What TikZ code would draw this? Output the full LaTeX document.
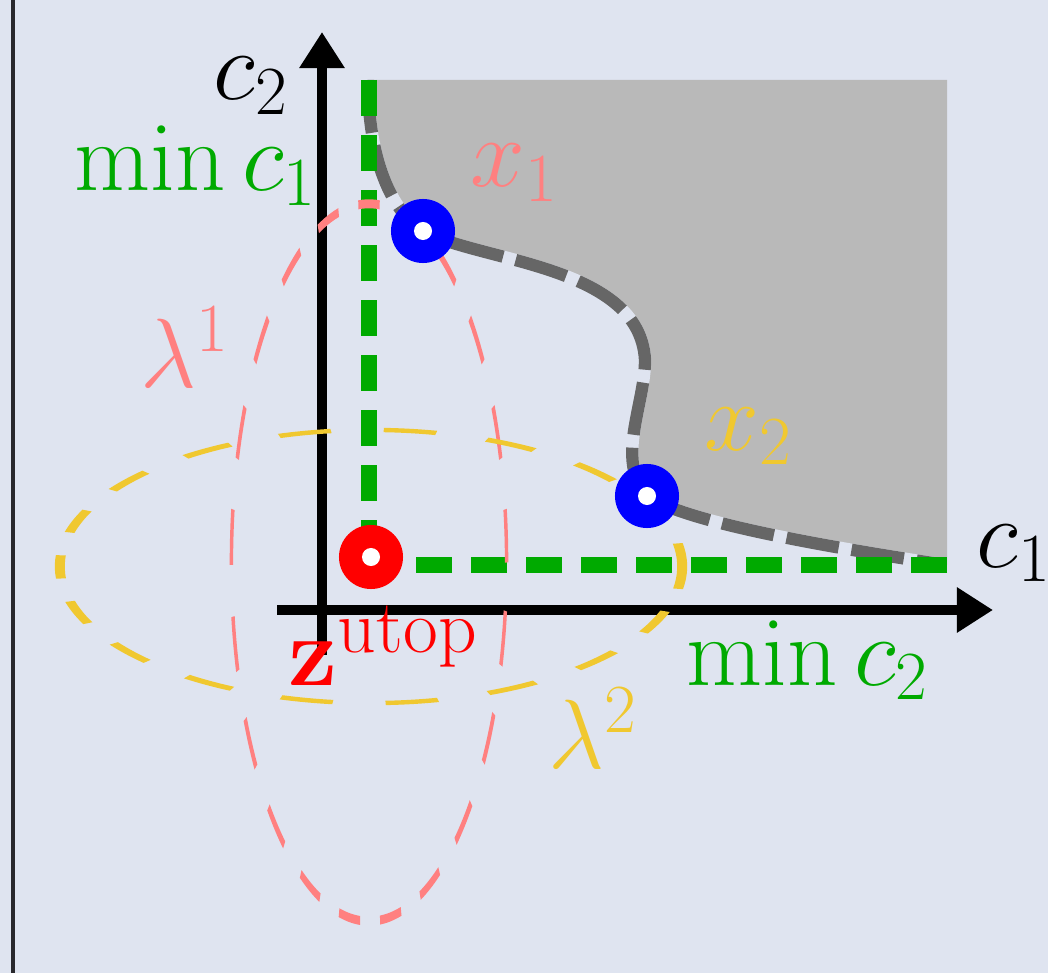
\documentclass[tikz,border=0pt]{standalone}
\usepackage{fix-cm}
\usetikzlibrary{arrows.meta}
\definecolor{panelbg}{RGB}{223, 228, 240}
\definecolor{framedark}{RGB}{40, 40, 45}
\definecolor{frontgray}{RGB}{102, 102, 102}
\definecolor{domfill}{RGB}{185, 185, 185}
\definecolor{mingreen}{RGB}{0, 170, 0}
\definecolor{lampink}{RGB}{255, 128, 128}
\definecolor{lamyellow}{RGB}{240, 200, 48}

\tikzset{
  sol/.style={circle, inner sep=0pt, minimum size=0.64cm,
    path picture={\fill[white] (path picture bounding box.center) circle (0.09cm);}},
  lbl/.style={inner sep=0pt, anchor=base west, font=\fontsize{28}{33}\selectfont},
  axis/.style={line width=2.6pt, -{Triangle[length=0.36cm, width=0.43cm]}},
  minline/.style={mingreen, line width=4.8pt, dash pattern=on 0.36cm off 0.19cm},
}

% pareto front, shared by the fill and the dashed border
\newcommand{\paretofront}{(368,80) .. controls (368,160) and (392,212) .. (423,231)
  .. controls (480,262) and (640,265) .. (645,360)
  .. controls (645,405) and (615,460) .. (647,496)
  .. controls (690,525) and (850,550) .. (945,565)}

\begin{document}
\begin{tikzpicture}[x=0.01cm, y=-0.01cm]
    \useasboundingbox (0,0) rectangle (1048,973);
    \fill[panelbg] (0,0) rectangle (1048,973);
    \draw[framedark, line width=1pt] (13,0) -- (13,973);

    % dominated region
    \fill[domfill] \paretofront -- (947,565) -- (947,80) -- cycle;
    \draw[panelbg, line width=3.5pt] \paretofront;
    \draw[frontgray, line width=3.5pt, dash pattern=on 0.53cm off 0.13cm] \paretofront;

    % axes
    \coordinate (yfoot) at (322,655);
    \coordinate (ytip) at (322,32);
    \coordinate (xfoot) at (277,610);
    \coordinate (xtip) at (993,610);
    \draw[axis] (yfoot) -- (ytip);
    \draw[axis] (xfoot) -- (xtip);

    % utopia point and the two solutions
    \coordinate (mintop) at (369,80);
    \coordinate (minright) at (947,565);
    \draw[minline] (mintop) -- (369,565);
    \draw[minline] (minright) -- (371,565);

    % weight ellipses
    \begin{scope}[transform canvas={shift={(369,562.5)}, xscale=1.375, yscale=3.585}]
        \draw[lampink, line width=0.025cm, dash pattern=on 0.155cm off 0.145cm,
              dash phase=0.0065cm] (0,0) circle (1cm);
    \end{scope}
    \begin{scope}[transform canvas={shift={(371,566.5)}, xscale=3.11, yscale=1.365}]
        \draw[lamyellow, line width=0.032cm, dash pattern=on 0.17cm off 0.17cm]
            (0,0) circle (1cm);
    \end{scope}

    \node[sol, fill=red] (zutop) at (371,557) {};
    \node[sol, fill=blue] (x1) at (423,231) {};
    \node[sol, fill=blue] (x2) at (647,496) {};

    % labels
    \node[lbl] (c2lbl) at (213,100) {$c_2$};
    \node[lbl, text=mingreen] (min1) at (74,191) {$\min c_1$};
    \node[lbl, text=lampink] (x1lbl) at (470,187) {$x_1$};
    \node[lbl, text=lampink] (lam1) at (140,387) {$\lambda^1$};
    \node[lbl, text=lamyellow] (x2lbl) at (704,450) {$x_2$};
    \node[lbl] (c1lbl) at (976,567) {$c_1$};
    \node[lbl, text=mingreen] (min2) at (686,685) {$\min c_2$};
    \node[lbl, text=red] (zlbl) at (288,685)
        {$\mathbf{z}$\raisebox{0.32cm}{\fontsize{21.5}{25}\selectfont utop}};
    \node[lbl, text=lamyellow] (lam2) at (548,768) {$\lambda^2$};
\end{tikzpicture}
\end{document}
